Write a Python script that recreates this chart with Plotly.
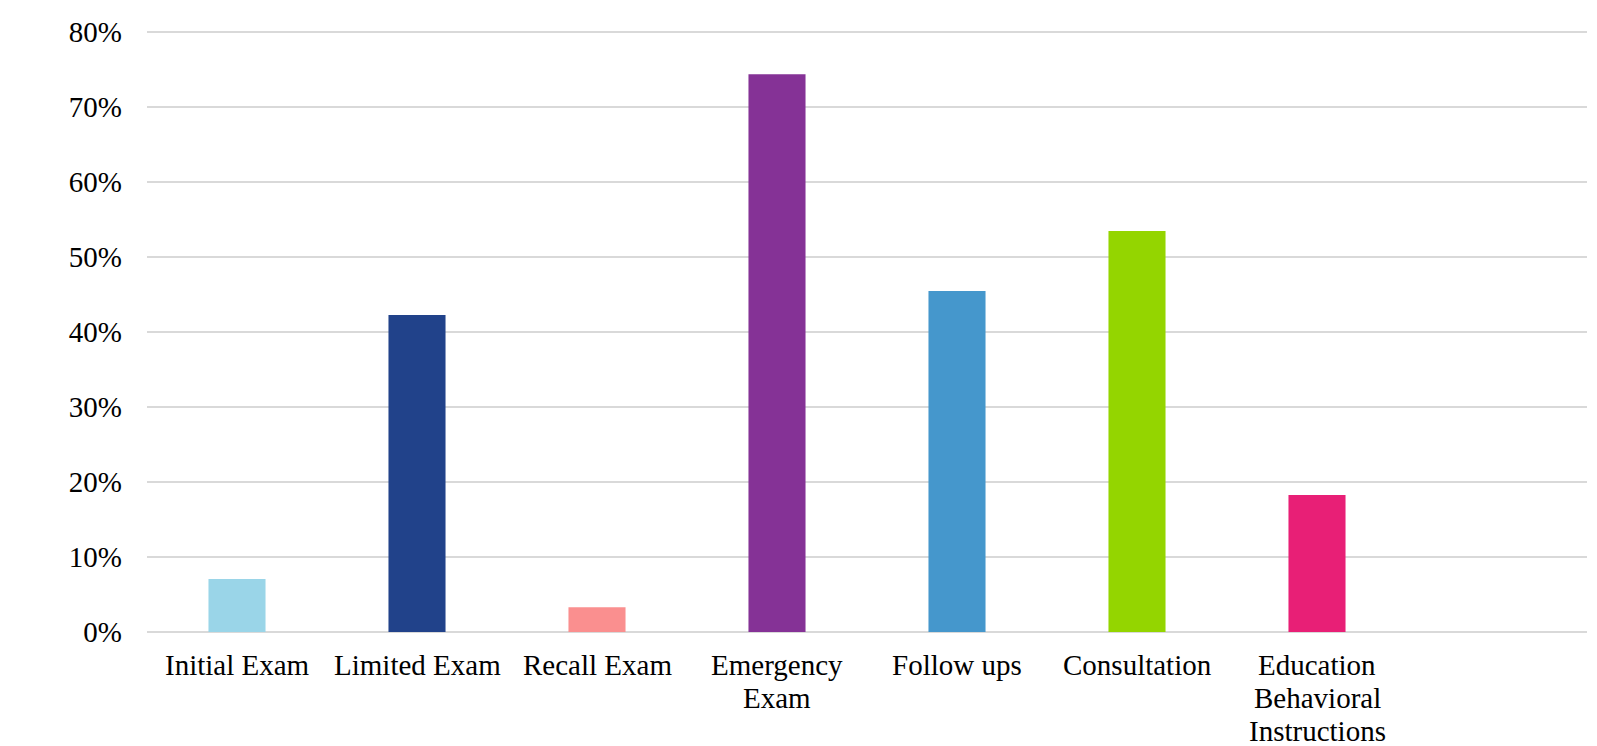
import plotly.graph_objects as go

# Share of visits by procedure type
categories = ["Initial Exam", "Limited Exam", "Recall Exam", "Emergency Exam",
              "Follow ups", "Consultation", "Education Behavioral Instructions", ""]
label_lines = [["Initial Exam"], ["Limited Exam"], ["Recall Exam"], ["Emergency", "Exam"],
               ["Follow ups"], ["Consultation"], ["Education", "Behavioral", "Instructions"], []]
values = [0.0707, 0.4227, 0.0329, 0.7436, 0.4547, 0.5347, 0.1827, None]
colors = ["#9ad5e8", "#21428a", "#fa8f8f", "#853296", "#4597cc", "#94d500", "#e81f76", "#ffffff"]

font_family = "Liberation Serif"
font_size = 29
line_step = 33  # px between label baselines

fig = go.Figure(
    go.Bar(
        x=categories,
        y=values,
        marker=dict(color=colors, line=dict(width=0)),
        width=0.317,
        hoverinfo="x+y",
    )
)

# category labels below the axis, one annotation per text line
for cat, lines in zip(categories, label_lines):
    for i, line in enumerate(lines):
        fig.add_annotation(
            x=cat, xref="x",
            y=0, yref="paper",
            yanchor="top",
            yshift=-16 - i * line_step,
            text=line,
            showarrow=False,
            borderpad=0,
            font=dict(family=font_family, size=font_size, color="#000000"),
        )

fig.update_layout(
    width=1597,
    height=746,
    margin=dict(l=147, r=10, t=30, b=114),
    paper_bgcolor="white",
    plot_bgcolor="white",
    showlegend=False,
    font=dict(family=font_family, size=font_size, color="#000000"),
)

fig.update_xaxes(
    type="category",
    categoryorder="array",
    categoryarray=categories,
    automargin=False,
    showgrid=False,
    showline=False,
    ticks="",
    showticklabels=False,
)

fig.update_yaxes(
    range=[0, 0.8027],
    automargin=False,
    tickvals=[0, 0.1, 0.2, 0.3, 0.4, 0.5, 0.6, 0.7, 0.8],
    tickformat=".0%",
    showgrid=True,
    gridcolor="#d9d9d9",
    gridwidth=2,
    zeroline=True,
    zerolinecolor="#d9d9d9",
    zerolinewidth=2,
    showline=False,
    ticks="",
    ticklabelstandoff=24,
    tickfont=dict(family=font_family, size=font_size, color="#000000"),
)

fig.write_html("out.html")
